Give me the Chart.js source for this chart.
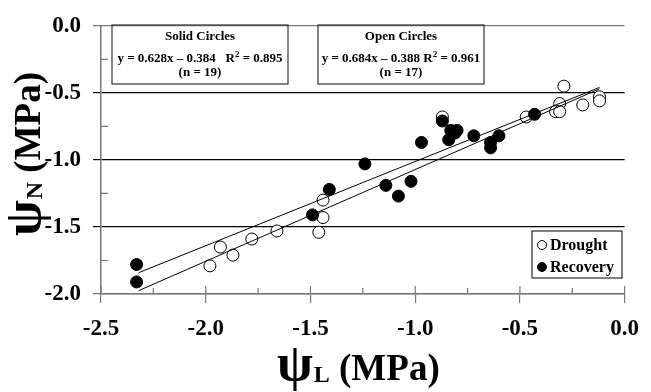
<!DOCTYPE html>
<html>
<head>
<meta charset="utf-8">
<script src="https://cdn.jsdelivr.net/npm/chart.js@4.4.1/dist/chart.umd.min.js"></script>
<style>
  html, body { margin: 0; padding: 0; background: #fff; }
  #wrap { width: 651px; height: 392px; }
</style>
</head>
<body>
<div id="wrap"><canvas id="chart" width="651" height="392"></canvas></div>
<script>
// Drought = open circles
const droughtX = [-1.98, -1.93, -1.87, -1.78, -1.66, -1.46, -1.44, -1.44, -0.87, -0.47, -0.29, -0.31, -0.33, -0.31, -0.20, -0.12, -0.12];
const droughtY = [-1.79, -1.65, -1.71, -1.59, -1.53, -1.54, -1.43, -1.30, -0.68, -0.68, -0.45, -0.58, -0.64, -0.64, -0.59, -0.53, -0.56];

// Recovery = solid circles
const recoveryX = [-2.33, -2.33, -1.49, -1.41, -1.24, -1.14, -1.08, -1.02, -0.97, -0.87, -0.83, -0.80, -0.84, -0.72, -0.60, -0.64, -0.64, -0.43, -0.81];
const recoveryY = [-1.78, -1.91, -1.41, -1.22, -1.03, -1.19, -1.27, -1.16, -0.87, -0.71, -0.78, -0.78, -0.85, -0.82, -0.82, -0.87, -0.91, -0.66, -0.80];

// regression lines (from the boxes), drawn over this x span
const fitSpan = [-2.32, -0.12];
const solidFit = [0.628, -0.384];
const openFit = [0.684, -0.388];

const xTicks = ['-2.5', '-2.0', '-1.5', '-1.0', '-0.5', '0.0'];
const yTicks = ['-2.0', '-1.5', '-1.0', '-0.5', '0.0'];

const SERIF = "'Liberation Serif', 'Times New Roman', serif";

function pts(xs, ys) {
    return xs.map((x, i) => ({ x: x, y: ys[i] }));
}
function fitLine(f) {
    return fitSpan.map(x => ({ x: x, y: f[0] * x + f[1] }));
}
function isMajor(v) {
    return Math.abs(v * 2 - Math.round(v * 2)) < 1e-6;
}

// inner tick marks, axis titles, text boxes and legend
const extras = {
    id: 'extras',
    afterDraw(chart) {
        const ctx = chart.ctx;
        const xs = chart.scales.x, ys = chart.scales.y;
        const area = chart.chartArea;
        ctx.save();

        // ticks pointing into the plot
        ctx.strokeStyle = '#777';
        ctx.lineWidth = 1.2;
        ctx.beginPath();
        xs.ticks.forEach(t => {
            const px = xs.getPixelForValue(t.value);
            ctx.moveTo(px, area.bottom);
            ctx.lineTo(px, area.bottom - (isMajor(t.value) ? 8 : 6));
        });
        ys.ticks.forEach(t => {
            if (isMajor(t.value)) return;
            const py = ys.getPixelForValue(t.value);
            ctx.moveTo(area.left, py);
            ctx.lineTo(area.left + 7, py);
        });
        ctx.stroke();

        // axis titles: psi + subscript + (MPa)
        function title(sub) {
            ctx.fillStyle = '#000';
            ctx.textBaseline = 'alphabetic';
            ctx.textAlign = 'left';
            ctx.font = 'bold 52px ' + SERIF;
            const w1 = ctx.measureText('\u03c8').width;
            ctx.fillText('\u03c8', 0, 0);
            ctx.font = 'bold 24px ' + SERIF;
            const w2 = ctx.measureText(sub).width;
            ctx.fillText(sub, w1 + 1, 2);
            ctx.font = 'bold 37px ' + SERIF;
            ctx.fillText(' (MPa)', w1 + w2 + 1, 0);
        }
        ctx.save();
        ctx.translate(277, 380);
        title('L');
        ctx.restore();
        ctx.save();
        ctx.translate(40, 236);
        ctx.rotate(-Math.PI / 2);
        title('N');
        ctx.restore();

        // equation boxes
        function eqBox(x0, x1, head, a, r2, n) {
            ctx.strokeStyle = '#333';
            ctx.lineWidth = 1.2;
            ctx.strokeRect(x0, 25, x1 - x0, 59);
            const cx = (x0 + x1) / 2;
            ctx.fillStyle = '#000';
            ctx.textBaseline = 'middle';
            ctx.font = 'bold 13px ' + SERIF;
            ctx.textAlign = 'center';
            ctx.fillText(head, cx, 37);
            ctx.fillText(n, cx, 73);
            const b = ' = ' + r2;
            const wa = ctx.measureText(a).width;
            const wb = ctx.measureText(b).width;
            ctx.font = 'bold 9px ' + SERIF;
            const ws = ctx.measureText('2').width;
            let x = cx - (wa + ws + wb) / 2;
            ctx.textAlign = 'left';
            ctx.font = 'bold 13px ' + SERIF;
            ctx.fillText(a, x, 59);
            x += wa;
            ctx.font = 'bold 9px ' + SERIF;
            ctx.fillText('2', x, 55);
            x += ws;
            ctx.font = 'bold 13px ' + SERIF;
            ctx.fillText(b, x, 59);
        }
        eqBox(112, 288, 'Solid Circles', 'y = 0.628x \u2013 0.384   R', '0.895', '(n = 19)');
        eqBox(318, 484, 'Open Circles', 'y = 0.684x \u2013 0.388 R', '0.961', '(n = 17)');

        // legend
        ctx.strokeStyle = '#000';
        ctx.lineWidth = 1;
        ctx.strokeRect(532, 231, 90, 47);
        const items = [chart.data.datasets[0], chart.data.datasets[1]];
        items.forEach((ds, i) => {
            const y = 245 + i * 22;
            ctx.beginPath();
            ctx.arc(542, y, 4.5, 0, Math.PI * 2);
            ctx.fillStyle = ds.backgroundColor;
            ctx.fill();
            ctx.strokeStyle = '#000';
            ctx.lineWidth = 1;
            ctx.stroke();
            ctx.fillStyle = '#000';
            ctx.font = 'bold 16px ' + SERIF;
            ctx.textAlign = 'left';
            ctx.textBaseline = 'middle';
            ctx.fillText(ds.label, 550, y + 1);
        });
        ctx.restore();
    }
};

new Chart(document.getElementById('chart'), {
    type: 'scatter',
    data: {
        datasets: [
            {
                label: 'Drought',
                data: pts(droughtX, droughtY),
                backgroundColor: '#fff',
                borderColor: '#000',
                borderWidth: 1,
                pointRadius: 6,
                order: 2
            },
            {
                label: 'Recovery',
                data: pts(recoveryX, recoveryY),
                backgroundColor: '#000',
                borderColor: '#000',
                borderWidth: 1,
                pointRadius: 6,
                order: 1
            },
            {
                type: 'line',
                label: 'solid fit',
                data: fitLine(solidFit),
                borderColor: '#000',
                borderWidth: 1,
                pointRadius: 0,
                fill: false,
                order: 0
            },
            {
                type: 'line',
                label: 'open fit',
                data: fitLine(openFit),
                borderColor: '#000',
                borderWidth: 1,
                pointRadius: 0,
                fill: false,
                order: 0
            }
        ]
    },
    options: {
        responsive: false,
        animation: false,
        layout: { padding: { top: 17, right: 18, left: 0, bottom: 0 } },
        plugins: {
            legend: { display: false },
            tooltip: { enabled: false }
        },
        scales: {
            x: {
                type: 'linear',
                min: -2.5,
                max: 0,
                afterFit: s => { s.height = 98; },
                border: { display: true, color: '#777', width: 1.5 },
                grid: {
                    drawOnChartArea: false,
                    tickLength: 9,
                    lineWidth: 1.2,
                    color: c => isMajor(c.tick.value) ? '#777' : 'rgba(0,0,0,0)'
                },
                ticks: {
                    stepSize: 0.25,
                    autoSkip: false,
                    maxRotation: 0,
                    padding: 12,
                    color: '#000',
                    font: { family: SERIF, size: 23, weight: 'bold' },
                    callback: v => isMajor(v) ? xTicks[Math.round((v + 2.5) * 2)] : ''
                }
            },
            y: {
                type: 'linear',
                min: -2,
                max: 0,
                afterFit: s => { s.width = 101; },
                border: { display: true, color: '#777', width: 1.5 },
                grid: {
                    tickLength: 8,
                    lineWidth: 1.2,
                    color: c => {
                        const v = c.tick.value;
                        if (!isMajor(v)) return 'rgba(0,0,0,0)';
                        if (Math.abs(v) < 1e-6 || Math.abs(v + 2) < 1e-6) return '#777';
                        return '#000';
                    }
                },
                ticks: {
                    stepSize: 0.25,
                    autoSkip: false,
                    padding: 12,
                    color: '#000',
                    font: { family: SERIF, size: 23, weight: 'bold' },
                    callback: v => isMajor(v) ? yTicks[Math.round((v + 2) * 2)] : ''
                }
            }
        }
    },
    plugins: [extras]
});
</script>
</body>
</html>
